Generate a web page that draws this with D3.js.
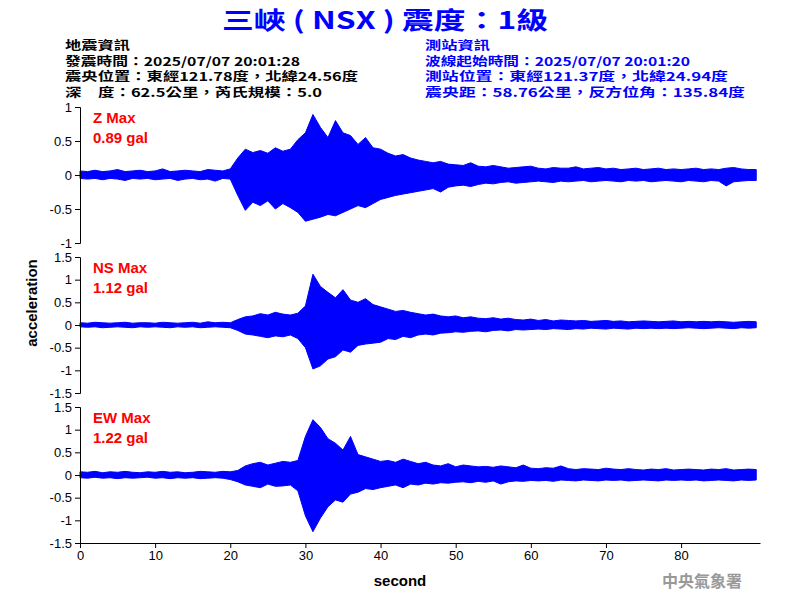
<!DOCTYPE html>
<html><head><meta charset="utf-8">
<script src="https://cdn.jsdelivr.net/npm/d3@7"></script>
<style>body{margin:0;background:#fff}</style>
</head><body>
<svg id="chart" width="800" height="600"></svg>
<script>
// per-second peak envelopes (t = 0..90 s)
var zMax = [0.06,0.05,0.07,0.05,0.06,0.08,0.05,0.06,0.07,0.05,0.06,0.09,0.05,0.06,0.07,0.06,0.05,0.08,0.07,0.06,0.09,
  0.25,0.38,0.33,0.36,0.32,0.40,0.35,0.38,0.52,0.62,0.89,0.70,0.55,0.80,0.62,0.58,0.45,0.55,0.40,0.38,
  0.32,0.28,0.30,0.25,0.22,0.20,0.18,0.20,0.16,0.15,0.14,0.18,0.13,0.12,0.14,0.12,0.10,0.11,0.12,0.13,
  0.10,0.09,0.11,0.10,0.10,0.12,0.09,0.10,0.11,0.09,0.10,0.08,0.09,0.10,0.08,0.09,0.10,0.08,0.09,0.08,
  0.09,0.10,0.08,0.09,0.08,0.10,0.11,0.09,0.08,0.08];
var zMin = [-0.05,-0.06,-0.05,-0.07,-0.05,-0.06,-0.08,-0.05,-0.06,-0.05,-0.07,-0.06,-0.05,-0.08,-0.06,-0.05,-0.07,-0.06,-0.09,-0.05,-0.06,
  -0.30,-0.52,-0.40,-0.45,-0.38,-0.50,-0.42,-0.48,-0.55,-0.68,-0.65,-0.62,-0.58,-0.60,-0.55,-0.50,-0.45,-0.48,-0.42,-0.36,
  -0.33,-0.30,-0.28,-0.26,-0.24,-0.22,-0.20,-0.25,-0.18,-0.16,-0.15,-0.17,-0.14,-0.12,-0.13,-0.11,-0.10,-0.12,-0.11,-0.10,
  -0.09,-0.10,-0.11,-0.09,-0.10,-0.09,-0.08,-0.10,-0.09,-0.08,-0.09,-0.10,-0.08,-0.09,-0.08,-0.10,-0.09,-0.08,-0.09,-0.10,
  -0.08,-0.09,-0.10,-0.08,-0.09,-0.16,-0.10,-0.09,-0.08,-0.08];
var nsMax = [0.05,0.04,0.06,0.05,0.04,0.05,0.06,0.04,0.05,0.05,0.04,0.06,0.05,0.04,0.05,0.06,0.04,0.07,0.05,0.06,0.05,
  0.12,0.18,0.20,0.25,0.22,0.28,0.24,0.22,0.26,0.42,1.12,0.85,0.72,0.60,0.78,0.55,0.50,0.58,0.45,0.40,
  0.35,0.30,0.32,0.28,0.25,0.22,0.24,0.20,0.18,0.20,0.16,0.18,0.15,0.14,0.16,0.13,0.15,0.12,0.11,0.13,
  0.10,0.12,0.09,0.11,0.10,0.09,0.10,0.08,0.09,0.10,0.08,0.09,0.07,0.08,0.09,0.08,0.07,0.08,0.09,0.07,
  0.08,0.07,0.08,0.07,0.08,0.07,0.06,0.07,0.08,0.07];
var nsMin = [-0.04,-0.05,-0.04,-0.06,-0.05,-0.04,-0.05,-0.06,-0.04,-0.05,-0.04,-0.05,-0.06,-0.04,-0.05,-0.04,-0.06,-0.05,-0.04,-0.05,-0.06,
  -0.12,-0.20,-0.22,-0.25,-0.28,-0.24,-0.26,-0.22,-0.30,-0.50,-0.97,-0.90,-0.75,-0.70,-0.55,-0.60,-0.45,-0.42,-0.40,-0.38,
  -0.30,-0.32,-0.25,-0.28,-0.22,-0.20,-0.22,-0.18,-0.17,-0.15,-0.16,-0.14,-0.13,-0.15,-0.12,-0.11,-0.13,-0.10,-0.11,-0.10,
  -0.09,-0.10,-0.08,-0.09,-0.10,-0.08,-0.09,-0.07,-0.08,-0.09,-0.07,-0.08,-0.09,-0.07,-0.08,-0.07,-0.08,-0.07,-0.08,-0.07,
  -0.06,-0.07,-0.08,-0.07,-0.06,-0.07,-0.08,-0.06,-0.07,-0.06];
var ewMax = [0.07,0.06,0.08,0.05,0.07,0.06,0.08,0.06,0.05,0.07,0.06,0.08,0.06,0.07,0.05,0.06,0.08,0.07,0.06,0.08,0.07,
  0.10,0.20,0.25,0.28,0.22,0.26,0.30,0.28,0.32,0.85,1.22,1.05,0.80,0.70,0.55,0.85,0.45,0.40,0.35,0.30,
  0.32,0.28,0.35,0.30,0.25,0.28,0.22,0.20,0.25,0.18,0.22,0.20,0.18,0.19,0.17,0.20,0.18,0.16,0.22,0.15,
  0.14,0.16,0.15,0.20,0.14,0.12,0.14,0.13,0.12,0.15,0.13,0.12,0.14,0.12,0.11,0.13,0.12,0.14,0.11,0.12,
  0.13,0.12,0.11,0.13,0.12,0.14,0.11,0.12,0.13,0.12];
var ewMin = [-0.06,-0.07,-0.05,-0.07,-0.06,-0.08,-0.06,-0.07,-0.06,-0.05,-0.07,-0.06,-0.08,-0.06,-0.07,-0.06,-0.08,-0.07,-0.06,-0.07,-0.10,
  -0.15,-0.22,-0.25,-0.28,-0.20,-0.25,-0.24,-0.22,-0.35,-0.90,-1.25,-0.95,-0.70,-0.55,-0.60,-0.42,-0.38,-0.30,-0.32,-0.28,
  -0.25,-0.22,-0.28,-0.20,-0.22,-0.18,-0.20,-0.17,-0.18,-0.16,-0.15,-0.17,-0.14,-0.16,-0.13,-0.20,-0.15,-0.13,-0.14,-0.12,
  -0.13,-0.12,-0.14,-0.11,-0.12,-0.13,-0.11,-0.12,-0.13,-0.11,-0.12,-0.11,-0.13,-0.12,-0.11,-0.12,-0.13,-0.11,-0.12,-0.11,
  -0.12,-0.11,-0.13,-0.12,-0.11,-0.12,-0.13,-0.11,-0.12,-0.11];

var panels = [
  {name: "Z Max",  peak: "0.89 gal", hi: zMax,  lo: zMin,  range: 1,   top: 107},
  {name: "NS Max", peak: "1.12 gal", hi: nsMax, lo: nsMin, range: 1.5, top: 257},
  {name: "EW Max", peak: "1.22 gal", hi: ewMax, lo: ewMin, range: 1.5, top: 407}
];
var xTicks = [0, 10, 20, 30, 40, 50, 60, 70, 80];
var quakeInfo = ["地震資訊", "發震時間：2025/07/07 20:01:28", "震央位置：東經121.78度，北緯24.56度", "深　度：62.5公里，芮氏規模：5.0"];
var stationInfo = ["測站資訊", "波線起始時間：2025/07/07 20:01:20", "測站位置：東經121.37度，北緯24.94度", "震央距：58.76公里，反方位角：135.84度"];
var quakeWidths = [65, 235, 293, 257];
var stationWidths = [65, 265, 303, 320];

var svg = d3.select("#chart");
var font = "'Liberation Sans', Arial, sans-serif";
var cjk = "'Noto Sans CJK TC', 'Liberation Sans', sans-serif";
var panelH = 136;

var x = d3.scaleLinear().domain([0, 90.5]).range([80, 760]);

svg.append("text").attr("x", 385).attr("y", 29).attr("text-anchor", "middle")
  .attr("fill", "#0000ff").style("font", "bold 24px " + cjk)
  .attr("textLength", 326).attr("lengthAdjust", "spacingAndGlyphs")
  .text("三峽 ( NSX ) 震度：1級");

function infoBlock(lines, widths, x0, color) {
  lines.forEach(function(s, i) {
    svg.append("text").attr("x", x0).attr("y", 50 + i * 15.6)
      .style("font", "bold 12px " + cjk).attr("fill", color)
      .attr("textLength", widths[i]).attr("lengthAdjust", "spacingAndGlyphs").text(s);
  });
}
infoBlock(quakeInfo, quakeWidths, 65, "#000");
infoBlock(stationInfo, stationWidths, 425, "#0000ff");

panels.forEach(function(p) {
  var y = d3.scaleLinear().domain([-p.range, p.range]).range([p.top + panelH, p.top]);
  var idx = d3.range(p.hi.length);

  svg.append("path").datum(idx)
    .attr("fill", "#0000ff").attr("stroke", "#0000ff").attr("stroke-width", 1)
    .attr("d", d3.area()
      .x(function(i) { return x(Math.min(i, 90.5)); })
      .y0(function(i) { return y(p.lo[i]); })
      .y1(function(i) { return y(p.hi[i]); }));

  var ya = svg.append("g").attr("transform", "translate(80,0)")
    .call(d3.axisLeft(y).ticks(p.range * 4).tickSize(5).tickFormat(function(d) { return String(d); }));
  ya.selectAll("text").style("font", "13px " + font).attr("fill", "#000");
  ya.selectAll("line,path").attr("stroke", "#000");

  svg.append("text").attr("x", 93).attr("y", p.top + 16).attr("fill", "#ff0000")
    .style("font", "bold 15px " + font).text(p.name);
  svg.append("text").attr("x", 93).attr("y", p.top + 36).attr("fill", "#ff0000")
    .style("font", "bold 15px " + font).text(p.peak);
});

var xa = svg.append("g").attr("transform", "translate(0,543)")
  .call(d3.axisBottom(x).tickValues(xTicks).tickSize(5).tickSizeOuter(0));
xa.selectAll("text").style("font", "13px " + font).attr("fill", "#000");
xa.selectAll("line,path").attr("stroke", "#000");

svg.append("text").attr("transform", "translate(37,303) rotate(-90)").attr("text-anchor", "middle")
  .style("font", "bold 15px " + font).text("acceleration");
svg.append("text").attr("x", 400).attr("y", 586).attr("text-anchor", "middle")
  .style("font", "bold 15px " + font).text("second");
svg.append("text").attr("x", 702).attr("y", 587).attr("text-anchor", "middle").attr("fill", "#999")
  .style("font", "bold 16px 'Noto Sans CJK TC', serif").text("中央氣象署");
</script>
</body></html>
